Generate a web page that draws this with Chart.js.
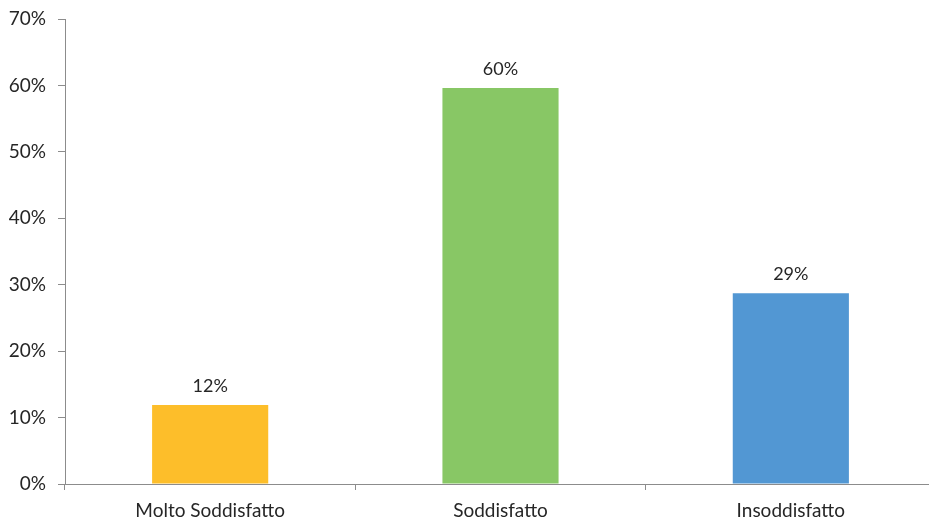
<!DOCTYPE html>
<html>
<head>
<meta charset="utf-8">
<script src="https://cdn.jsdelivr.net/npm/chart.js@4/dist/chart.umd.min.js"></script>
<style>
	html, body { margin: 0; padding: 0; background: #fff; overflow: hidden; }
	#wrap { width: 936px; height: 520px; position: relative; }
</style>
</head>
<body>
<div id="wrap"><canvas id="graph"></canvas></div>
<script>
"use strict";

const categories = ["Molto Soddisfatto", "Soddisfatto", "Insoddisfatto"];
const values = [11.9, 59.6, 28.7];
const barColors = ["#FDBE2A", "#88C765", "#5297D3"];
const yTicks = [0, 10, 20, 30, 40, 50, 60, 70];

const axisColor = "#8c8c8c";
const textColor = "#262626";

// labels above each bar, placed from the bar elements
const valueLabels = {
	id: "valueLabels",
	afterDatasetsDraw(chart) {
		const ctx = chart.ctx;
		const meta = chart.getDatasetMeta(0);
		ctx.save();
		ctx.font = "18px Lato";
		ctx.fillStyle = textColor;
		ctx.textAlign = "center";
		ctx.textBaseline = "bottom";
		meta.data.forEach((bar, i) => {
			ctx.fillText(Math.round(values[i]) + "%", bar.x, bar.y - 10);
		});
		ctx.restore();
	},
};

new Chart(document.querySelector("#graph").getContext("2d"), {
	type: "bar",
	data: {
		labels: categories,
		datasets: [
			{
				data: values,
				backgroundColor: barColors,
				barPercentage: 0.4,
				categoryPercentage: 1,
			},
		],
	},
	options: {
		responsive: true,
		maintainAspectRatio: false,
		animation: false,
		layout: { padding: { top: 19, right: 0, bottom: 0, left: 0 } },
		plugins: {
			legend: { display: false },
			tooltip: { enabled: false },
		},
		scales: {
			x: {
				grid: {
					offset: true,
					drawOnChartArea: false,
					drawTicks: true,
					tickLength: 6,
					color: axisColor,
				},
				border: { display: true, color: axisColor },
				ticks: {
					color: textColor,
					font: { family: "Lato", size: 19 },
					padding: 9,
				},
				afterFit(scale) {
					scale.height = 36;
					scale.paddingLeft = 0;
					scale.paddingRight = 0;
				},
			},
			y: {
				min: 0,
				max: 70,
				afterBuildTicks(scale) {
					scale.ticks = yTicks.map((v) => ({ value: v }));
				},
				grid: {
					drawOnChartArea: false,
					drawTicks: true,
					tickLength: 7,
					color: axisColor,
				},
				border: { display: true, color: axisColor },
				ticks: {
					color: textColor,
					font: { family: "Lato", size: 19 },
					padding: 12,
					callback: (v) => v + "%",
				},
				afterFit(scale) {
					scale.width = 65;
					scale.paddingTop = 0;
					scale.paddingBottom = 0;
				},
			},
		},
	},
	plugins: [valueLabels],
});
</script>
</body>
</html>
